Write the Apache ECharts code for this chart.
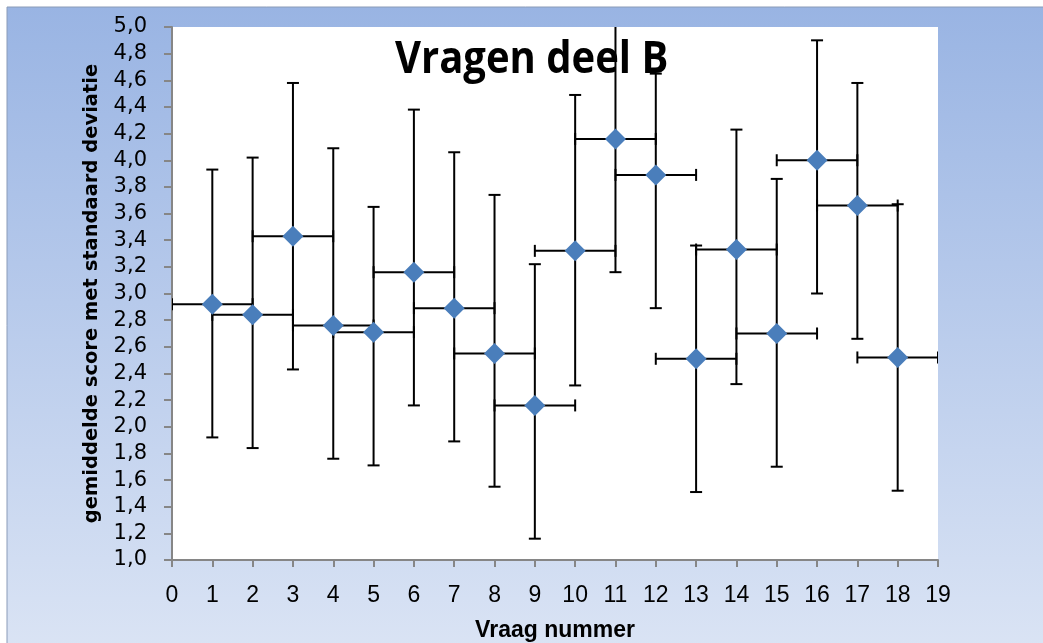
<!DOCTYPE html>
<html>
<head>
<meta charset="utf-8">
<script src="https://cdn.jsdelivr.net/npm/echarts@6/dist/echarts.min.js"></script>
<style>
  html, body { margin: 0; padding: 0; background: #fff; }
  #container { width: 1043px; height: 643px; }
</style>
</head>
<body>
<div id="container"></div>
<script>
// question numbers, mean score and the ends of the bars
var questions = [1, 2, 3, 4, 5, 6, 7, 8, 9, 10, 11, 12, 13, 14, 15, 16, 17, 18];
var means = [2.92, 2.84, 3.43, 2.76, 2.71, 3.16, 2.89, 2.55, 2.16, 3.32, 4.16, 3.89, 2.51, 3.33, 2.70, 4.00, 3.66, 2.52];
var upper = [3.93, 4.02, 4.58, 4.09, 3.65, 4.38, 4.06, 3.74, 3.22, 4.49, 5.30, 4.65, 3.36, 4.23, 3.86, 4.90, 4.58, 3.67];
var lower = [1.92, 1.84, 2.43, 1.76, 1.71, 2.16, 1.89, 1.55, 1.16, 2.31, 3.16, 2.89, 1.51, 2.32, 1.70, 3.00, 2.66, 1.52];
var xErr = [1, 1, 1, 1, 1, 1, 1, 1, 1, 1, 1, 1, 1, 1, 1, 1, 1, 1];

var yMin = 1, yMax = 5;

var points = [];
var bars = [];
for (var i = 0; i < questions.length; i++) {
    points.push([questions[i], means[i]]);
    bars.push([questions[i], means[i], lower[i], upper[i], questions[i] - xErr[i], questions[i] + xErr[i]]);
}

function fmt(v) {
    return v.toFixed(1).replace('.', ',');
}

function renderBar(params, api) {
    var x = api.value(0), y = api.value(1);
    var lo = api.value(2), hi = api.value(3);
    var xl = api.value(4), xr = api.value(5);
    var cap = 6;
    var style = { stroke: '#000', lineWidth: 2 };
    var children = [];

    var pTop = api.coord([x, Math.min(hi, yMax)]);
    var pBot = api.coord([x, Math.max(lo, yMin)]);
    var pL = api.coord([xl, y]);
    var pR = api.coord([xr, y]);

    children.push({ type: 'line', shape: { x1: pTop[0], y1: pTop[1], x2: pBot[0], y2: pBot[1] }, style: style });
    if (hi <= yMax) {
        children.push({ type: 'line', shape: { x1: pTop[0] - cap, y1: pTop[1], x2: pTop[0] + cap, y2: pTop[1] }, style: style });
    }
    if (lo >= yMin) {
        children.push({ type: 'line', shape: { x1: pBot[0] - cap, y1: pBot[1], x2: pBot[0] + cap, y2: pBot[1] }, style: style });
    }
    children.push({ type: 'line', shape: { x1: pL[0], y1: pL[1], x2: pR[0], y2: pR[1] }, style: style });
    children.push({ type: 'line', shape: { x1: pL[0], y1: pL[1] - cap, x2: pL[0], y2: pL[1] + cap }, style: style });
    children.push({ type: 'line', shape: { x1: pR[0], y1: pR[1] - cap, x2: pR[0], y2: pR[1] + cap }, style: style });

    return { type: 'group', children: children };
}

var dom = document.getElementById('container');
var myChart = echarts.init(dom, null, { renderer: 'canvas' });

var option = {
    animation: false,
    graphic: [
        {
            type: 'rect',
            z: -10,
            shape: { x: 7, y: 7, width: 1100, height: 700 },
            style: {
                fill: new echarts.graphic.LinearGradient(0, 0, 0, 1, [
                    { offset: 0, color: '#99b4e3' },
                    { offset: 1, color: '#e0e8f6' }
                ]),
                stroke: '#8a9bb8',
                lineWidth: 1
            }
        },
        {
            type: 'text',
            z: 100,
            left: 395,
            top: 38,
            scaleY: 1.12,
            style: {
                text: 'Vragen deel B',
                font: 'bold 40px "Open Sans", sans-serif',
                fill: '#000'
            }
        }
    ],
    grid: {
        left: 172,
        top: 27,
        width: 766,
        height: 533,
        show: true,
        backgroundColor: '#fff',
        borderWidth: 0,
        containLabel: false,
        outerBoundsMode: 'none'
    },
    xAxis: {
        type: 'value',
        min: 0,
        max: 19,
        interval: 1,
        name: 'Vraag nummer',
        nameLocation: 'middle',
        nameGap: 59,
        nameTextStyle: { fontFamily: 'Liberation Sans', fontWeight: 'bold', fontSize: 23, color: '#000' },
        axisLine: { show: true, lineStyle: { color: '#868686', width: 2 } },
        axisTick: { show: true, length: 7, lineStyle: { color: '#868686', width: 2 } },
        axisLabel: { margin: 24, fontFamily: '"Liberation Sans Narrow", "Liberation Sans", sans-serif', fontSize: 23, color: '#000' },
        splitLine: { show: false }
    },
    yAxis: {
        type: 'value',
        min: yMin,
        max: yMax,
        interval: 0.2,
        name: 'gemiddelde score met standaard deviatie',
        nameLocation: 'middle',
        nameGap: 70,
        nameTextStyle: { fontFamily: '"DejaVu Sans", sans-serif', fontWeight: 'bold', fontSize: 19.5, color: '#000' },
        axisLine: { show: true, lineStyle: { color: '#868686', width: 2 } },
        axisTick: { show: true, length: 8, lineStyle: { color: '#868686', width: 2 } },
        axisLabel: { margin: 25, fontFamily: '"DejaVu Sans", sans-serif', fontSize: 21, color: '#000', formatter: fmt },
        splitLine: { show: false }
    },
    series: [
        {
            type: 'custom',
            renderItem: renderBar,
            data: bars,
            clip: true,
            z: 2,
            encode: { x: 0, y: 1 }
        },
        {
            type: 'scatter',
            symbol: 'diamond',
            symbolSize: 21,
            itemStyle: { color: '#4a7ebb', opacity: 1 },
            data: points,
            z: 3
        }
    ]
};

myChart.setOption(option);
window.addEventListener('resize', myChart.resize);
</script>
</body>
</html>
